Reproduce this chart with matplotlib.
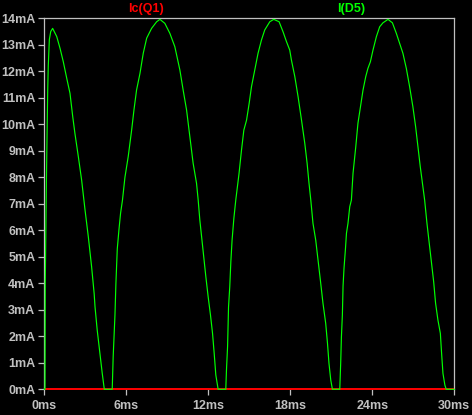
import matplotlib
matplotlib.use("Agg")
import matplotlib.pyplot as plt

# I(D5) trace (ms, mA)
t_ms = [0, 0.05, 0.07, 0.16, 0.25, 0.29, 0.37, 0.47, 0.61,
        0.91, 1.15, 1.39, 1.64, 1.88, 2.08, 2.24, 2.49, 2.73, 2.98, 3.22, 3.46, 3.65, 3.71, 3.87, 4.07, 4.24, 4.39, 4.97,
        5.04, 5.17, 5.24, 5.34, 5.46, 5.58, 5.72, 5.90, 6.14, 6.39, 6.56, 6.75, 7.0, 7.24, 7.49, 7.85, 8.22, 8.46,
        8.82, 9.19, 9.55, 9.92, 10.16, 10.41, 10.65, 10.89, 11.14, 11.26, 11.38, 11.51, 11.67, 11.82, 11.99, 12.16,
        12.31, 12.43, 12.55, 12.72, 13.28,
        13.33, 13.41, 13.48, 13.57, 13.65, 13.74, 13.87, 14.01, 14.25, 14.43, 14.6, 14.8, 14.99, 15.16, 15.4, 15.64,
        15.89, 16.13, 16.5, 16.79, 17.18, 17.47, 17.72, 17.96, 18.08, 18.33, 18.57, 18.82, 19.06, 19.23, 19.37, 19.5,
        19.66, 19.86, 20.03, 20.2, 20.39, 20.59, 20.72, 20.83, 20.96, 21.08, 21.62,
        21.69, 21.74, 21.81, 21.86, 21.93, 22.03, 22.11, 22.22, 22.35, 22.47, 22.59, 22.79, 22.95, 23.13, 23.32,
        23.52, 23.68, 23.86, 24.05, 24.3, 24.54, 24.78, 25.15, 25.47, 25.76, 26.0, 26.24, 26.49, 26.73, 26.97,
        27.17, 27.34, 27.51, 27.7, 27.83, 28.0, 28.14, 28.32, 28.49, 28.63, 28.8, 28.98, 29.07, 29.17, 29.31,
        29.41, 30.0]
i_d5_ma = [0, 0, 4.0, 8.1, 11.3, 12.2, 13.2, 13.5, 13.62,
           13.31, 12.87, 12.36, 11.74, 11.17, 10.29, 9.66, 8.78, 7.90, 6.77, 5.76, 4.63, 3.60, 3.12, 2.24, 1.36, 0.60, 0, 0,
           1.23, 2.8, 4.0, 5.3, 6.01, 6.64, 7.14, 8.0, 8.78, 9.78, 10.54, 11.29, 11.92, 12.68, 13.25, 13.62, 13.87, 13.96,
           13.81, 13.43, 12.93, 12.05, 11.29, 10.54, 9.53, 8.53, 7.77, 7.14, 6.39, 5.76, 5.0, 4.25, 3.49, 2.80,
           2.11, 1.36, 0.54, 0, 0,
           0.73, 1.61, 3.1, 3.87, 4.82, 5.63, 6.45, 7.14, 8.15, 9.03, 9.78, 10.16, 10.79, 11.42, 12.05, 12.68,
           13.18, 13.56, 13.87, 13.96, 13.87, 13.49, 13.12, 12.80, 12.43, 11.80, 11.04, 10.16, 9.28, 8.53, 7.77, 7.14,
           6.26, 5.63, 4.88, 4.12, 3.25, 2.49, 1.74, 0.98, 0.35, 0, 0,
           1.04, 1.98, 2.80, 3.9, 4.57, 5.26, 5.89, 6.26, 6.89, 7.14, 8.15, 9.15, 10.04, 10.66, 11.29,
           11.80, 12.11, 12.36, 12.80, 13.31, 13.68, 13.83, 13.96, 13.83, 13.43, 13.06, 12.68, 12.11, 11.42, 10.66,
           9.91, 9.15, 8.40, 7.65, 7.14, 6.26, 5.63, 4.82, 4.06, 3.25, 2.62, 2.11, 1.36, 0.60, 0.16,
           0, 0]

# Ic(Q1) trace (flat at zero)
ic_t_ms = [0, 30]
ic_q1_ma = [0, 0]

x_ticks = [0, 6, 12, 18, 24, 30]
x_labels = ["0ms", "6ms", "12ms", "18ms", "24ms", "30ms"]
y_ticks = list(range(0, 15))
y_labels = [f"{v}mA" for v in y_ticks]

series_names = ["Ic(Q1)", "I(D5)"]

GRAY = "#c0c0c0"
GREEN = "#00ff00"
RED = "#ff0000"

plt.rcParams['font.family'] = ['Liberation Sans', 'DejaVu Sans']

fig = plt.figure(figsize=(4.72, 4.15), dpi=100, facecolor="black")
ax = fig.add_axes([44.3 / 472, 1 - 389.3 / 415, 410 / 472, 371 / 415])
ax.set_facecolor("black")

ax.plot(ic_t_ms, ic_q1_ma, color=RED, lw=1.4, zorder=3, clip_on=False,
        solid_capstyle="butt")
ax.plot(t_ms, i_d5_ma, color=GREEN, lw=0.85, zorder=4, clip_on=False)

ax.set_xlim(0, 30)
ax.set_ylim(0, 14)
ax.set_xticks(x_ticks)
ax.set_xticklabels(x_labels, fontweight="bold")
ax.set_yticks(y_ticks)
ax.set_yticklabels(y_labels, fontweight="bold")

for s in ax.spines.values():
    s.set_color(GRAY)
    s.set_linewidth(0.9)
ax.spines["bottom"].set_visible(False)

ax.tick_params(axis="both", colors=GRAY, direction="out", length=4.5, width=0.9,
               labelsize=9, labelcolor=GRAY)
ax.tick_params(axis="y", pad=2)
ax.tick_params(axis="x", pad=3.5)

fig.text(146 / 472, 1 - 9 / 415, series_names[0], color=RED, fontsize=9,
         ha="center", va="center", fontweight="bold")
fig.text(351 / 472, 1 - 9 / 415, series_names[1], color=GREEN, fontsize=9,
         ha="center", va="center", fontweight="bold")

fig.savefig("out.png", dpi=100, facecolor="black")
